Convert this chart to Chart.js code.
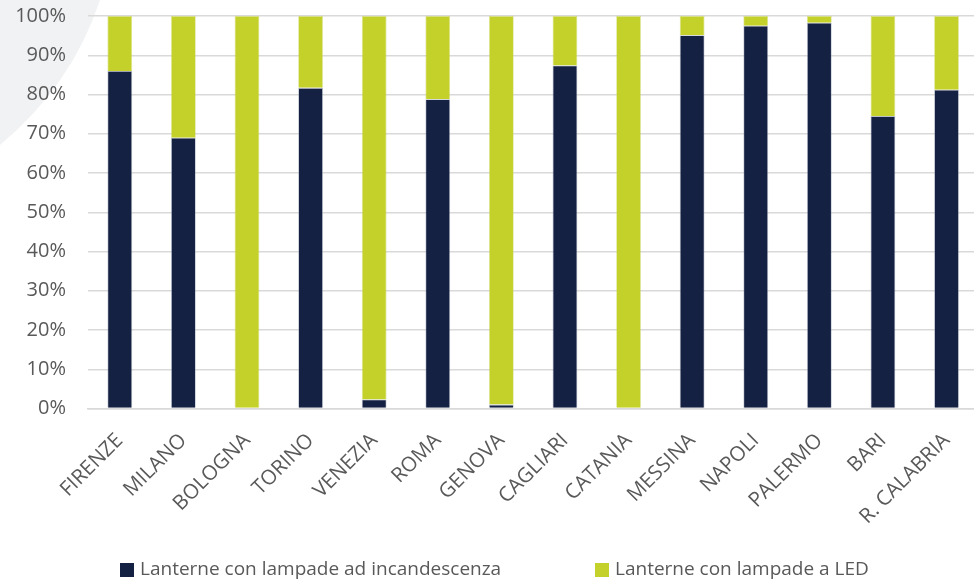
<!DOCTYPE html>
<html>
<head>
<meta charset="utf-8">
<script src="https://cdn.jsdelivr.net/npm/chart.js@4/dist/chart.umd.min.js"></script>
<style>
  html, body { margin: 0; padding: 0; background: #ffffff; overflow: hidden; }
  #wrap { position: relative; width: 984px; height: 580px; }
</style>
</head>
<body>
<div id="wrap"><canvas id="chart"></canvas></div>
<script>
// Cities and share of lanterns by lamp type (%)
const cities = ['FIRENZE', 'MILANO', 'BOLOGNA', 'TORINO', 'VENEZIA', 'ROMA', 'GENOVA',
                'CAGLIARI', 'CATANIA', 'MESSINA', 'NAPOLI', 'PALERMO', 'BARI', 'R. CALABRIA'];
const incandescenza = [86.0, 69.0, 0, 81.7, 2.3, 78.8, 1.0, 87.4, 0, 95.1, 97.5, 98.3, 74.5, 81.2];
const led = [14.0, 31.0, 100, 18.3, 97.7, 21.2, 99.0, 12.6, 100, 4.9, 2.5, 1.7, 25.5, 18.8];
const yTicks = [0, 10, 20, 30, 40, 50, 60, 70, 80, 90, 100];
const seriesNames = ['Lanterne con lampade ad incandescenza', 'Lanterne con lampade a LED'];

const FONT = '"Open Sans", sans-serif';
const TEXT = '#595959';

// soft grey corner shape behind the chart
const cornerShape = {
  id: 'cornerShape',
  beforeDraw(chart) {
    const ctx = chart.ctx;
    ctx.save();
    ctx.fillStyle = '#f1f2f4';
    ctx.beginPath();
    ctx.moveTo(0, 0);
    ctx.lineTo(100, 0);
    ctx.quadraticCurveTo(72, 85, 0, 145);
    ctx.closePath();
    ctx.fill();
    ctx.restore();
  }
};

// legend row under the axis labels, built from the datasets
const bottomLegend = {
  id: 'bottomLegend',
  afterDraw(chart) {
    const ctx = chart.ctx;
    const startX = [120, 595];
    const cy = 570;
    ctx.save();
    ctx.font = '19px ' + FONT;
    ctx.textBaseline = 'middle';
    ctx.textAlign = 'left';
    chart.data.datasets.forEach((ds, i) => {
      ctx.fillStyle = ds.backgroundColor;
      ctx.fillRect(startX[i], cy - 7, 14, 14);
      ctx.fillStyle = TEXT;
      ctx.fillText(ds.label, startX[i] + 20, cy);
    });
    ctx.restore();
  }
};

new Chart(document.getElementById('chart'), {
  type: 'bar',
  data: {
    labels: cities,
    datasets: [
      { label: seriesNames[0], data: incandescenza, backgroundColor: '#152143',
        borderColor: 'rgba(140,150,170,0.6)', borderWidth: 0.8 },
      { label: seriesNames[1], data: led, backgroundColor: '#c4d12a',
        borderColor: 'rgba(200,210,80,0.6)', borderWidth: 0.8 }
    ]
  },
  plugins: [cornerShape, bottomLegend],
  options: {
    responsive: true,
    maintainAspectRatio: false,
    animation: false,
    layout: { padding: { top: 1, left: 12, right: 2, bottom: 31 } },
    datasets: { bar: { barPercentage: 0.39, categoryPercentage: 1 } },
    scales: {
      x: {
        stacked: true,
        grid: { display: false, drawTicks: false },
        border: { display: true, color: '#d9d9d9', width: 1.5 },
        ticks: {
          color: TEXT, font: { family: FONT, size: 20.5 },
          minRotation: 45, maxRotation: 45, padding: 20, autoSkip: false
        }
      },
      y: {
        stacked: true,
        min: 0, max: 100,
        afterBuildTicks(scale) { scale.ticks = yTicks.map(v => ({ value: v })); },
        afterFit(scale) { scale.width = 76; },
        grid: { color: '#d9d9d9', lineWidth: 1.5, drawTicks: true,
                tickLength: 18, tickColor: 'rgba(0,0,0,0)' },
        border: { display: false },
        ticks: {
          color: TEXT, font: { family: FONT, size: 20 }, padding: 4,
          callback: v => v + '%'
        }
      }
    },
    plugins: {
      legend: { display: false },
      tooltip: { enabled: false }
    }
  }
});
</script>
</body>
</html>
